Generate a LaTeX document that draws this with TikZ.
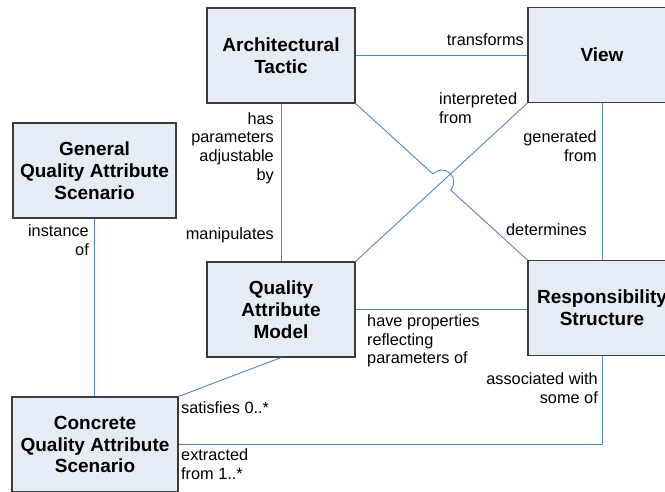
\documentclass[tikz,border=0pt]{standalone}
\usepackage{fontspec}
\setmainfont{Liberation Sans}
\usetikzlibrary{calc,intersections}
\definecolor{boxfill}{RGB}{230,236,246}
\definecolor{boxline}{RGB}{60,60,60}
\definecolor{connclr}{RGB}{84,132,200}
\begin{document}
\begin{tikzpicture}[x=1pt,y=1pt,
  box/.style={draw=boxline, line width=1.1pt, fill=boxfill, minimum width=148pt, minimum height=95pt, inner sep=0pt, align=center, font=\fontsize{19}{21.8}\selectfont\bfseries},
  lbl/.style={inner sep=0pt, font=\fontsize{16.3}{18.7}\selectfont},
  link/.style={draw=connclr, line width=0.9pt}]
\clip (0,0) rectangle (665,491);
\fill[white] (0,0) rectangle (665,491);
% boxes
\node[box] (at) at (281,435.5) {Architectural\\Tactic};
\node[box] (view) at (602,436) {View};
\node[box, minimum width=163pt] (gqas) at (94.5,320.5) {General\\Quality Attribute\\Scenario};
\node[box] (qam) at (281,181.5) {Quality\\Attribute\\Model};
\node[box] (rs) at (602,183) {Responsibility\\Structure};
\node[box, minimum width=166pt] (cqas) at (95,46.5) {Concrete\\Quality Attribute\\Scenario};
% connectors
\draw[link] (at.east) -- (at.east -| view.west);
\draw[link] (at.south) -- (qam.north);
\path[name path=p1] (at.south east) -- (rs.north west);
\draw[link, name path=p2] (view.south west) -- (qam.north east);
\path[name intersections={of=p1 and p2, by=X}];
\draw[link] let \p1=($(rs.north west)-(at.south east)$), \n1={atan2(\y1,\x1)} in
  (at.south east) -- ($(X)!12pt!(at.south east)$) arc[start angle=\n1+180, end angle=\n1, radius=12pt] -- (rs.north west);
\draw[link] (view.south) -- (rs.north);
\draw[link] (qam.east) -- (qam.east -| rs.west);
\draw[link] (gqas.south) -- (gqas.south |- cqas.north);
\draw[link] (qam.south) -- (cqas.north east);
\draw[link] (cqas.east) -| (rs.south);
% labels
\node[lbl, anchor=east] (l1) at (524,451) {transforms};
\node[lbl, anchor=west, align=left] (l2) at (439,383) {interpreted\\from};
\node[lbl, anchor=east, align=right] (l3) at (274,343) {has\\parameters\\adjustable\\by};
\node[lbl, anchor=east] (l4) at (274,256) {manipulates};
\node[lbl, anchor=east, align=right] (l5) at (597,345) {generated\\from};
\node[lbl, anchor=east] (l6) at (587,261) {determines};
\node[lbl, anchor=east, align=right] (l7) at (89,250.5) {instance\\of};
\node[lbl, anchor=west, align=left] (l8) at (367,150) {have properties\\reflecting\\parameters of};
\node[lbl, anchor=east, align=right] (l9) at (598,103) {associated with\\some of};
\node[lbl, anchor=west] (l10) at (181,83) {satisfies 0..*};
\node[lbl, anchor=west, align=left] (l11) at (181,27) {extracted\\from 1..*};
\end{tikzpicture}
\end{document}
